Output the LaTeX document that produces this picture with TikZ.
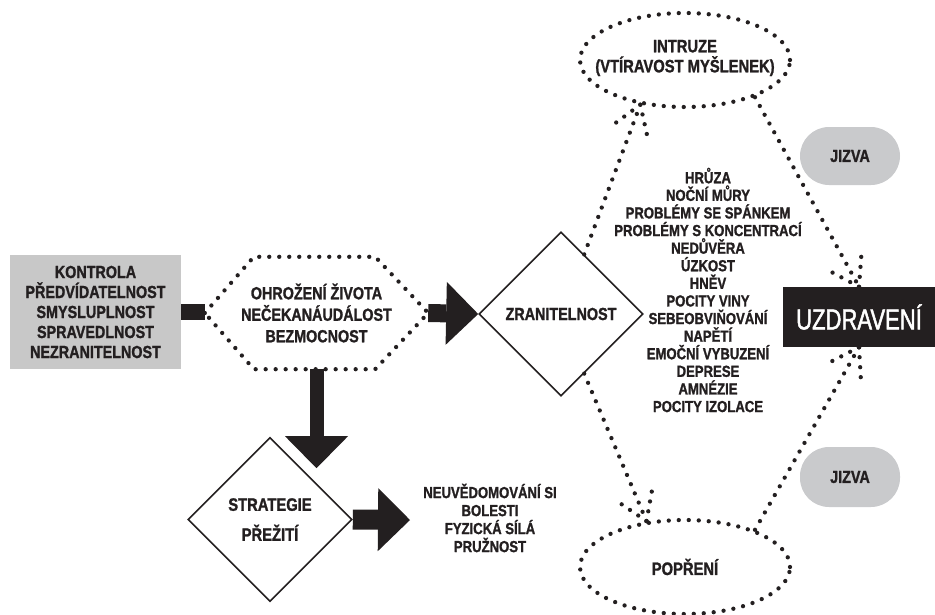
\documentclass[tikz,border=0pt]{standalone}
\usepackage{fontspec}
\setmainfont{Liberation Sans}[FakeStretch=0.82]
\newfontfamily\nb{Liberation Sans}[FakeStretch=0.82, FakeBold=1.3, UprightFont={* Bold}]
\newfontfamily\uzfont{Liberation Sans}[FakeStretch=0.76, FakeBold=1.6]
\usetikzlibrary{shapes.geometric,arrows.meta,calc}
\definecolor{txt}{HTML}{231F20}
\definecolor{boxgray}{HTML}{C8C8C8}
\definecolor{jgray}{HTML}{C9CACC}
\begin{document}
\begin{tikzpicture}[x=1pt,y=-1pt,
  lbl/.style={font=\nb\fontsize{17.5}{20}\selectfont, align=center, text=txt, inner sep=0pt},
  small/.style={font=\nb\fontsize{16}{17.6}\selectfont, align=center, text=txt, inner sep=0pt},
  dotline/.style={draw=txt, line width=4.3pt, line cap=round, dash pattern=on 0pt off 10pt},
  bigarrow/.style={draw=txt, line width=#1, -{Triangle[length=32pt,width=63pt,line width=0pt]}},
  dia/.style={diamond, draw=txt, fill=white, line width=1.6pt, minimum width=164pt, minimum height=164pt, inner sep=0pt},
  oval/.style={ellipse, dotline, minimum width=210pt, minimum height=94pt, inner sep=0pt},
  scar/.style={fill=jgray, rounded corners=29pt, minimum width=100pt, minimum height=58pt, lbl}
]
\useasboundingbox (0,0) rectangle (935,614);

% nodes
\node (box) [fill=boxgray, minimum width=171pt, minimum height=114pt, lbl] at (95.5,312)
  {KONTROLA\\PŘEDVÍDATELNOST\\SMYSLUPLNOST\\SPRAVEDLNOST\\NEZRANITELNOST};
\node (hex) [minimum width=223pt, minimum height=112pt, lbl, font=\nb\fontsize{17.5}{21.5}\selectfont] at (316.5,313)
  {OHROŽENÍ ŽIVOTA\\NEČEKANÁUDÁLOST\\BEZMOCNOST};
\draw[dotline] (hex.west) -- ([xshift=49pt]hex.north west) -- ([xshift=-53pt]hex.north east)
  -- (hex.east) -- ([xshift=-53pt]hex.south east) -- ([xshift=49pt]hex.south west) -- cycle;

\node (zran) [dia, lbl] at (561,314) {ZRANITELNOST};
\node (strat) [dia, lbl, font=\nb\fontsize{18}{30}\selectfont] at (270,519.5) {STRATEGIE\\PŘEŽITÍ};
\node (neuv) [small, font=\nb\fontsize{16}{18}\selectfont] at (490,518)
  {NEUVĚDOMOVÁNÍ SI\\BOLESTI\\FYZICKÁ SÍLÁ\\PRUŽNOST};

\node (intr) [oval] at (685,60) {};
\node (intrtxt) [lbl, font=\nb\fontsize{18}{20}\selectfont] at (685,58) {INTRUZE\\(VTÍRAVOST MYŠLENEK)};
\node (popr) [oval, lbl, font=\nb\fontsize{18}{20}\selectfont] at (685,567) {POPŘENÍ};

\node (list) [small] at (708,290)
  {HRŮZA\\NOČNÍ MŮRY\\PROBLÉMY SE SPÁNKEM\\PROBLÉMY S KONCENTRACÍ\\NEDŮVĚRA\\ÚZKOST\\HNĚV\\POCITY VINY\\SEBEOBVIŇOVÁNÍ\\NAPĚTÍ\\EMOČNÍ VYBUZENÍ\\DEPRESE\\AMNÉZIE\\POCITY IZOLACE};

\node (j1) [scar] at (850,156) {JIZVA};
\node (j2) [scar, minimum height=60pt] at (850,477) {JIZVA};
\node (uzd) [fill=txt, text=white, minimum width=152pt, minimum height=60pt, inner sep=0pt,
  font=\uzfont\fontsize{29}{30}\selectfont] at (859,317) {UZDRAVENÍ};

% thick connectors
\draw[txt, line width=16pt] (box.east) -- (box.east -| hex.west);
\draw[bigarrow=18pt] (hex.east) -- (zran.west);
\coordinate (vtip) at ($(hex.south)+(0,99)$);
\draw[bigarrow=14pt] (hex.south) -- (vtip);
\coordinate (stip) at (410,520);
\draw[bigarrow=20pt] (strat.east) -- (stip);

% dotted connectors
\coordinate (zt) at ($(zran.north)!0.28!(zran.east)$);
\coordinate (zb) at ($(zran.south)!0.28!(zran.east)$);
\coordinate (iend) at (intr.225);
\coordinate (pend) at (popr.130);
\coordinate (istart) at (intr.332);
\coordinate (pstart) at (popr.28);
\coordinate (utop) at (uzd.north);
\coordinate (ubot) at (uzd.south);

\draw[dotline] (zt) -- (iend);
\draw[dotline] (iend) -- ($(iend)!32pt!33:(zt)$);
\draw[dotline] (iend) -- ($(iend)!32pt!-33:(zt)$);

\draw[dotline] (zb) -- (pend);
\draw[dotline] (pend) -- ($(pend)!32pt!33:(zb)$);
\draw[dotline] (pend) -- ($(pend)!32pt!-33:(zb)$);

\draw[dotline] (istart) -- (utop);
\draw[dotline] (utop) -- ($(utop)!32pt!33:(istart)$);
\draw[dotline] (utop) -- ($(utop)!32pt!-33:(istart)$);

\draw[dotline] (pstart) -- (ubot);
\draw[dotline] (ubot) -- ($(ubot)!32pt!33:(pstart)$);
\draw[dotline] (ubot) -- ($(ubot)!32pt!-33:(pstart)$);
\end{tikzpicture}
\end{document}
